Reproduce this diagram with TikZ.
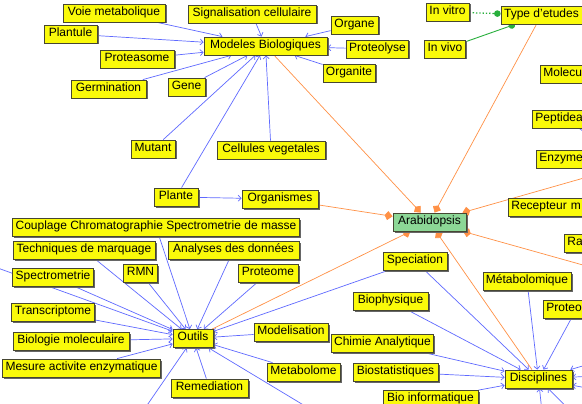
\documentclass[tikz,border=0pt]{standalone}
\usepackage{fontspec}
\setmainfont{Liberation Sans}
\usetikzlibrary{arrows.meta,shadows,backgrounds}
\definecolor{nodeyellow}{RGB}{250,250,10}
\definecolor{edgeblue}{RGB}{95,105,255}
\definecolor{edgeorange}{RGB}{255,145,70}
\definecolor{edgegreen}{RGB}{40,175,60}
\definecolor{arabgreen}{RGB}{140,215,150}
\definecolor{boxborder}{RGB}{70,70,50}
\begin{document}
\begin{tikzpicture}[x=1pt,y=-1pt,
  box/.style={draw=boxborder, line width=0.8pt, fill=nodeyellow,
    font=\fontsize{12}{12}\selectfont, inner xsep=3pt, inner ysep=1pt,
    text height=7.6pt, text depth=3.4pt, minimum height=18pt,
    drop shadow={shadow xshift=1.5pt, shadow yshift=-1.5pt, fill=black!60, opacity=1}},
  cutbox/.style={box, anchor=west, align=left, text width=#1},
  bluelink/.style={draw=edgeblue, line width=0.7pt, -{Straight Barb[length=3pt,width=6pt]}},
  plainblue/.style={draw=edgeblue, line width=0.7pt},
  orangelink/.style={draw=edgeorange, line width=0.7pt, -{Kite[length=8pt,width=9pt,inset=3pt,fill=edgeorange]}},
  greenlink/.style={draw=edgegreen, line width=0.9pt, -{Circle[length=6.5pt,fill=edgegreen]}},
]
\useasboundingbox (0,0) rectangle (582,404);
\clip (0,0) rectangle (582,404);

% Modeles Biologiques cluster
\node[box, minimum width=102pt] (voie) at (114,13) {Voie metabolique};
\node[box, minimum width=128pt] (signal) at (252,14) {Signalisation cellulaire};
\node[box, minimum width=47pt] (organe) at (354.5,25) {Organe};
\node[box, minimum width=53pt] (plantule) at (70.5,34) {Plantule};
\node[box, minimum width=123pt] (modeles) at (265.5,46) {Modeles Biologiques};
\node[box, minimum width=61pt] (proteolyse) at (377.5,49) {Proteolyse};
\node[box, minimum width=74pt] (proteasome) at (137,59) {Proteasome};
\node[box, minimum width=52pt] (organite) at (349,73) {Organite};
\node[box, minimum width=75pt] (germination) at (108.5,89) {Germination};
\node[box, minimum width=37pt] (gene) at (186.5,87) {Gene};
\node[box, minimum width=44pt] (mutant) at (153,149) {Mutant};
\node[box, minimum width=108pt] (cellules) at (271,150) {Cellules vegetales};
\node[box, minimum width=44pt] (plante) at (176,197) {Plante};
\node[box, minimum width=76pt] (organismes) at (280,199) {Organismes};

% centre
\node[box, fill=arabgreen, minimum width=73pt] (arabidopsis) at (429.5,222) {Arabidopsis};

% Type d'etudes
\node[box, minimum width=43pt] (invitro) at (447.5,12) {In vitro};
\node[box, minimum width=81pt] (type) at (541.5,15) {Type d'etudes};
\node[box, minimum width=40pt] (invivo) at (445,49) {In vivo};

% right column (cut by the edge)
\node[cutbox=60pt] (molecules) at (540,74) {Molecu};
\node[cutbox=60pt] (peptides) at (532,119) {Peptidea};
\node[cutbox=60pt] (enzymes) at (536,159) {Enzyme};
\node[cutbox=90pt] (recepteur) at (508,207) {Recepteur m};
\node[cutbox=40pt] (ra) at (564,243) {Ra};

% Disciplines cluster
\node[box, minimum width=64pt] (speciation) at (415,261) {Speciation};
\node[box, minimum width=88pt] (metabolomique) at (527,281) {Métabolomique};
\node[cutbox=60pt] (proteomique) at (543,309) {Proteo};
\node[box, minimum width=75pt] (biophysique) at (390.5,301) {Biophysique};
\node[box, minimum width=101pt] (chimie) at (382.5,343) {Chimie Analytique};
\node[box, minimum width=85pt] (biostat) at (395.5,372) {Biostatistiques};
\node[box, minimum width=95pt] (bioinfo) at (430.5,399) {Bio informatique};
\node[box, minimum width=67pt] (disciplines) at (538.5,379) {Disciplines};

% Outils cluster
\node[box, minimum width=286pt] (couplage) at (156,227) {Couplage Chromatographie Spectrometrie de masse};
\node[box, minimum width=142pt] (techniques) at (84,250) {Techniques de marquage};
\node[box, minimum width=131pt] (analyses) at (233.5,250) {Analyses des données};
\node[box, minimum width=80pt] (spectrometrie) at (53,277) {Spectrometrie};
\node[box, minimum width=33pt] (rmn) at (140.5,273) {RMN};
\node[box, minimum width=60pt] (proteome) at (268,273) {Proteome};
\node[box, minimum width=80pt] (transcriptome) at (53,312) {Transcriptome};
\node[box, minimum width=116pt] (biomol) at (71,341) {Biologie moleculaire};
\node[box, minimum width=40pt] (outils) at (193,338.5) {Outils};
\node[box, minimum width=74pt] (modelisation) at (291,332) {Modelisation};
\node[box, anchor=east] (mesure) at (161,368) {Mesure activite enzymatique};
\node[box, minimum width=77pt] (remediation) at (209.5,388) {Remediation};
\node[box, minimum width=73pt] (metabolome) at (303.5,372) {Metabolome};

% off-page end points
\coordinate (offOutA) at (130,430);
\coordinate (offOutB) at (345,430);
\coordinate (offOutC) at (-30,258);
\coordinate (offDisA) at (630,352);
\coordinate (offDisB) at (630,374);
\coordinate (offDisC) at (630,396);
\coordinate (offDisD) at (545,440);
\coordinate (offDisE) at (600,440);
\coordinate (offArabA) at (640,162);
\coordinate (offArabB) at (640,281);
\coordinate (offPep) at (640,170);

\begin{scope}[on background layer]
  \fill[white] (0,0) rectangle (582,404);
  % Modeles Biologiques
  \foreach \n in {voie,signal,organe,plantule,proteolyse,proteasome,organite,germination,gene,mutant,cellules,plante}
    \draw[bluelink] (\n) -- (modeles);
  \draw[bluelink] (plante) -- (organismes);
  % Outils
  \foreach \n in {couplage,techniques,analyses,spectrometrie,rmn,proteome,transcriptome,biomol,mesure,remediation,modelisation,metabolome,speciation,offOutA,offOutB,offOutC}
    \draw[bluelink] (\n) -- (outils);
  % Disciplines
  \foreach \n in {speciation,biophysique,chimie,biostat,bioinfo,metabolomique,proteomique,offDisA,offDisB,offDisC,offDisD,offDisE}
    \draw[bluelink] (\n) -- (disciplines);
  \draw[plainblue] (peptides) -- (offPep);
  % Arabidopsis
  \foreach \n in {modeles,type,organismes,outils,disciplines,offArabA,offArabB}
    \draw[orangelink] (\n) -- (arabidopsis);
  % Type d'etudes
  \draw[greenlink, line width=1.3pt, dotted] (invitro) -- (type);
  \draw[greenlink] (invivo) -- (type);
\end{scope}
\end{tikzpicture}
\end{document}
